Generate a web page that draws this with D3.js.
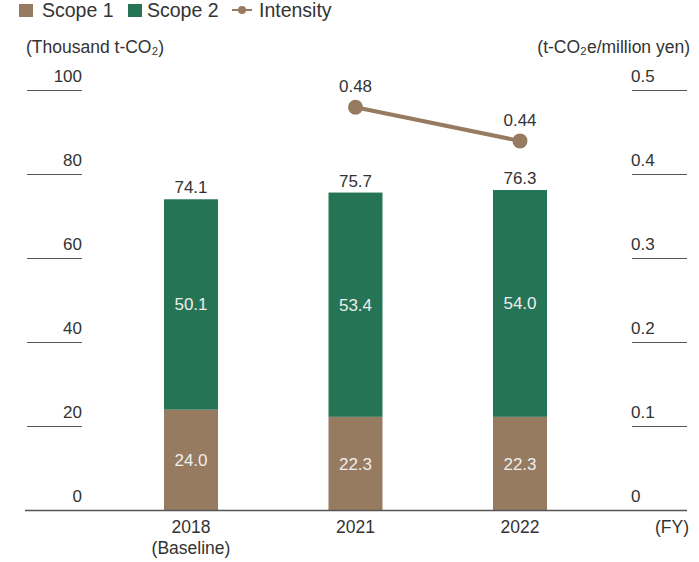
<!DOCTYPE html>
<html>
<head>
<meta charset="utf-8">
<script src="https://cdn.jsdelivr.net/npm/d3@7"></script>
<style>
  body { margin: 0; background: #fff; }
  svg text { font-family: "Liberation Sans", Arial, sans-serif; }
</style>
</head>
<body>
<div id="chart"></div>
<script>
const years = ["2018", "2021", "2022"];
const yearSub = ["(Baseline)", "", ""];
const scope1 = [24.0, 22.3, 22.3];
const scope2 = [50.1, 53.4, 54.0];
const totals = [74.1, 75.7, 76.3];
const intensityYears = ["2021", "2022"];
const intensity = [0.48, 0.44];
const leftTicks = [0, 20, 40, 60, 80, 100];
const rightTicks = [0, 0.1, 0.2, 0.3, 0.4, 0.5];

const brown = "#977b60";
const green = "#267456";
const textColor = "#333";
const fs = 17;

const svg = d3.select("#chart").append("svg")
    .attr("width", 699)
    .attr("height", 562);

const x = d3.scalePoint()
    .domain(years)
    .range([191, 520]);

const y = d3.scaleLinear()
    .domain([0, 100])
    .range([510.5, 90.5]);

const y2 = d3.scaleLinear()
    .domain([0, 0.5])
    .range([510.5, 90.5]);

const barW = 54;

// legend
const legend = svg.append("g").attr("transform", "translate(0,17)");
legend.append("rect").attr("x", 19).attr("y", -13).attr("width", 14).attr("height", 13).attr("fill", brown);
legend.append("text").attr("x", 42).attr("y", 0).attr("font-size", 19.5).attr("fill", textColor).text("Scope 1");
legend.append("rect").attr("x", 128).attr("y", -13).attr("width", 14).attr("height", 13).attr("fill", green);
legend.append("text").attr("x", 147).attr("y", 0).attr("font-size", 19.5).attr("fill", textColor).text("Scope 2");
legend.append("line").attr("x1", 232).attr("x2", 252).attr("y1", -7).attr("y2", -7)
    .attr("stroke", brown).attr("stroke-width", 2);
legend.append("circle").attr("cx", 242).attr("cy", -7).attr("r", 4).attr("fill", brown);
legend.append("text").attr("x", 259).attr("y", 0).attr("font-size", 19.5).attr("fill", textColor).text("Intensity");

// unit labels
svg.append("text").attr("x", 26).attr("y", 53).attr("font-size", 17.5).attr("fill", textColor)
    .text("(Thousand t-CO₂)");
svg.append("text").attr("x", 690).attr("y", 53).attr("font-size", 17.5).attr("fill", textColor)
    .attr("text-anchor", "end").text("(t-CO₂e/million yen)");

// left ticks
const lt = svg.append("g");
lt.selectAll("line").data(leftTicks.filter(d => d > 0)).enter().append("line")
    .attr("x1", 27).attr("x2", 82)
    .attr("y1", d => y(d)).attr("y2", d => y(d))
    .attr("stroke", "#555").attr("stroke-width", 1);
lt.selectAll("text").data(leftTicks).enter().append("text")
    .attr("x", 82).attr("y", d => y(d) - 9)
    .attr("text-anchor", "end").attr("font-size", fs).attr("fill", textColor)
    .text(d => d);

// right ticks
const rt = svg.append("g");
rt.selectAll("line").data(rightTicks.filter(d => d > 0)).enter().append("line")
    .attr("x1", 632).attr("x2", 687)
    .attr("y1", d => y2(d)).attr("y2", d => y2(d))
    .attr("stroke", "#555").attr("stroke-width", 1);
rt.selectAll("text").data(rightTicks).enter().append("text")
    .attr("x", 631).attr("y", d => y2(d) - 9)
    .attr("font-size", fs).attr("fill", textColor)
    .text(d => d === 0 ? "0" : d.toFixed(1));

// bars
const bars = svg.append("g").selectAll("g").data(years).enter().append("g");
bars.append("rect")
    .attr("x", d => x(d) - barW / 2)
    .attr("width", barW)
    .attr("y", (d, i) => y(scope1[i]))
    .attr("height", (d, i) => y(0) - y(scope1[i]))
    .attr("fill", brown);
bars.append("rect")
    .attr("x", d => x(d) - barW / 2)
    .attr("width", barW)
    .attr("y", (d, i) => y(scope1[i] + scope2[i]))
    .attr("height", (d, i) => y(scope1[i]) - y(scope1[i] + scope2[i]))
    .attr("fill", green);
bars.append("text")
    .attr("x", d => x(d)).attr("y", (d, i) => y(scope1[i] / 2) + 6)
    .attr("text-anchor", "middle").attr("font-size", fs).attr("fill", "#eee")
    .text((d, i) => scope1[i].toFixed(1));
bars.append("text")
    .attr("x", d => x(d)).attr("y", (d, i) => y(scope1[i] + scope2[i] / 2) + 6)
    .attr("text-anchor", "middle").attr("font-size", fs).attr("fill", "#eee")
    .text((d, i) => scope2[i].toFixed(1));
bars.append("text")
    .attr("x", d => x(d)).attr("y", (d, i) => y(totals[i]) - 6)
    .attr("text-anchor", "middle").attr("font-size", fs).attr("fill", textColor)
    .text((d, i) => totals[i].toFixed(1));

// baseline
svg.append("line").attr("x1", 25).attr("x2", 687)
    .attr("y1", y(0)).attr("y2", y(0))
    .attr("stroke", "#555").attr("stroke-width", 1.5);

// x labels
const xl = svg.append("g").selectAll("g").data(years).enter().append("g");
xl.append("text").attr("x", d => x(d)).attr("y", 533)
    .attr("text-anchor", "middle").attr("font-size", 17.5).attr("fill", textColor)
    .text(d => d);
xl.append("text").attr("x", d => x(d)).attr("y", 554)
    .attr("text-anchor", "middle").attr("font-size", 17.5).attr("fill", textColor)
    .text((d, i) => yearSub[i]);
svg.append("text").attr("x", 689).attr("y", 533)
    .attr("text-anchor", "end").attr("font-size", 17.5).attr("fill", textColor)
    .text("(FY)");

// intensity line
const line = d3.line()
    .x((d, i) => x(intensityYears[i]))
    .y(d => y2(d));
svg.append("path").datum(intensity)
    .attr("d", line)
    .attr("fill", "none")
    .attr("stroke", brown)
    .attr("stroke-width", 4);
svg.selectAll(".dot").data(intensity).enter().append("circle")
    .attr("class", "dot")
    .attr("cx", (d, i) => x(intensityYears[i]))
    .attr("cy", d => y2(d))
    .attr("r", 7.5)
    .attr("fill", brown);
svg.selectAll(".ilabel").data(intensity).enter().append("text")
    .attr("class", "ilabel")
    .attr("x", (d, i) => x(intensityYears[i]))
    .attr("y", d => y2(d) - 15)
    .attr("text-anchor", "middle").attr("font-size", fs).attr("fill", textColor)
    .text(d => d.toFixed(2));
</script>
</body>
</html>
